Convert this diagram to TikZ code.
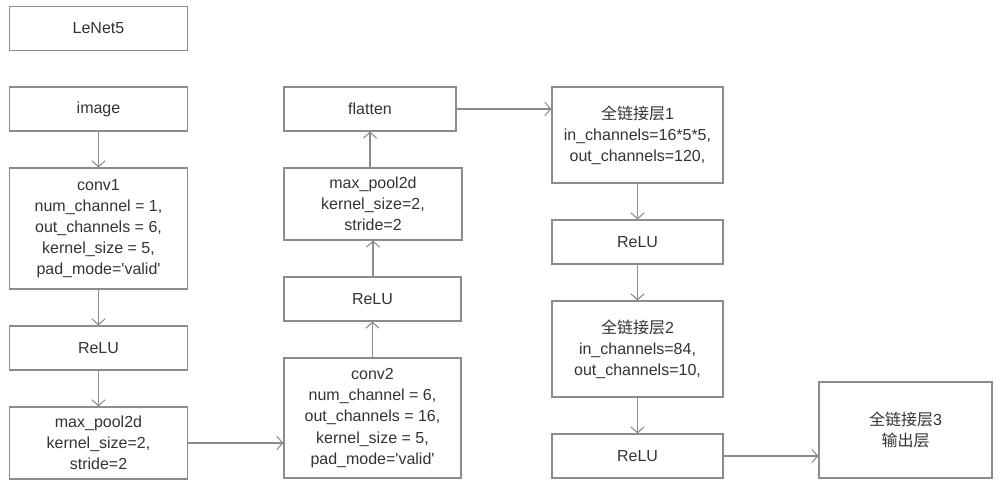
\documentclass[tikz,border=0pt]{standalone}
\usepackage{fontspec}
\setmainfont{Liberation Sans}
\newfontfamily\cjk{Noto Sans CJK SC}
\usetikzlibrary{calc,arrows.meta}
\definecolor{linegray}{HTML}{8C8C8C}
\definecolor{textgray}{HTML}{333333}

\begin{document}
\begin{tikzpicture}[x=0.75pt, y=-0.75pt,
    layer/.style={draw=linegray, line width=0.8pt, align=center, text=textgray, inner sep=0pt,
        font=\fontsize{12}{15.8}\selectfont, minimum width=133.5pt},
    flow/.style={draw=linegray, line width=0.8pt, -{Straight Barb[length=4.5pt, width=10pt]}}]
                    \useasboundingbox (0, 0) rectangle (1000, 486);
                    % left column
                    \node [layer, minimum height=33pt] (lenet) at (98.5, 28.5) {LeNet5};
                    \node [layer, minimum height=33pt] (image) at (98.5, 109) {image};
                    \node [layer, minimum height=90.75pt] (conv1) at (98.5, 228.5) {conv1\\num\_channel = 1,\\out\_channels = 6,\\kernel\_size = 5,\\pad\_mode=\textquotesingle valid\textquotesingle};
                    \node [layer, minimum height=33pt] (relu1) at (98.5, 348) {ReLU};
                    \node [layer, minimum height=54pt] (pool1) at (98.5, 443) {max\_pool2d\\kernel\_size=2,\\stride=2};
                    % middle column
                    \node [layer, minimum height=90pt, minimum width=132.75pt] (conv2) at (372.5, 418) {conv2\\num\_channel = 6,\\out\_channels = 16,\\kernel\_size = 5,\\pad\_mode=\textquotesingle valid\textquotesingle};
                    \node [layer, minimum height=33pt, minimum width=132.75pt] (relu2) at (372.5, 299) {ReLU};
                    \node [layer, minimum height=54pt] (pool2) at (373, 204) {max\_pool2d\\kernel\_size=2,\\stride=2};
                    \node [layer, minimum height=33pt, minimum width=129pt] (flatten) at (370, 109) {flatten};
                    % right column
                    \node [layer, minimum height=72pt, minimum width=128.25pt] (fc1) at (637.5, 135) {{\cjk 全链接层}1\\in\_channels=16*5*5,\\out\_channels=120,};
                    \node [layer, minimum height=33pt, minimum width=128.25pt] (relu3) at (637.5, 242) {ReLU};
                    \node [layer, minimum height=72pt, minimum width=128.25pt] (fc2) at (637.5, 349) {{\cjk 全链接层}2\\in\_channels=84,\\out\_channels=10,};
                    \node [layer, minimum height=33pt, minimum width=128.25pt] (relu4) at (637.5, 456) {ReLU};
                    \node [layer, minimum height=72pt, minimum width=129.75pt] (fc3) at (905.5, 430) {{\cjk 全链接层}3\\{\cjk 输出层}};

                    \draw [flow] (image) -- (conv1);
                    \draw [flow] (conv1) -- (relu1);
                    \draw [flow] (relu1) -- (pool1);
                    \draw [flow] (pool1.east) -- (pool1.east -| conv2.west);
                    \draw [flow] (conv2) -- (relu2);
                    \draw [flow] (relu2.north -| pool2.south) -- (pool2.south);
                    \draw [flow] (pool2.north -| flatten.south) -- (flatten.south);
                    \draw [flow] (flatten.east) -- (flatten.east -| fc1.west);
                    \draw [flow] (fc1) -- (relu3);
                    \draw [flow] (relu3) -- (fc2);
                    \draw [flow] (fc2) -- (relu4);
                    \draw [flow] (relu4.east) -- (relu4.east -| fc3.west);
                \end{tikzpicture}
\end{document}
